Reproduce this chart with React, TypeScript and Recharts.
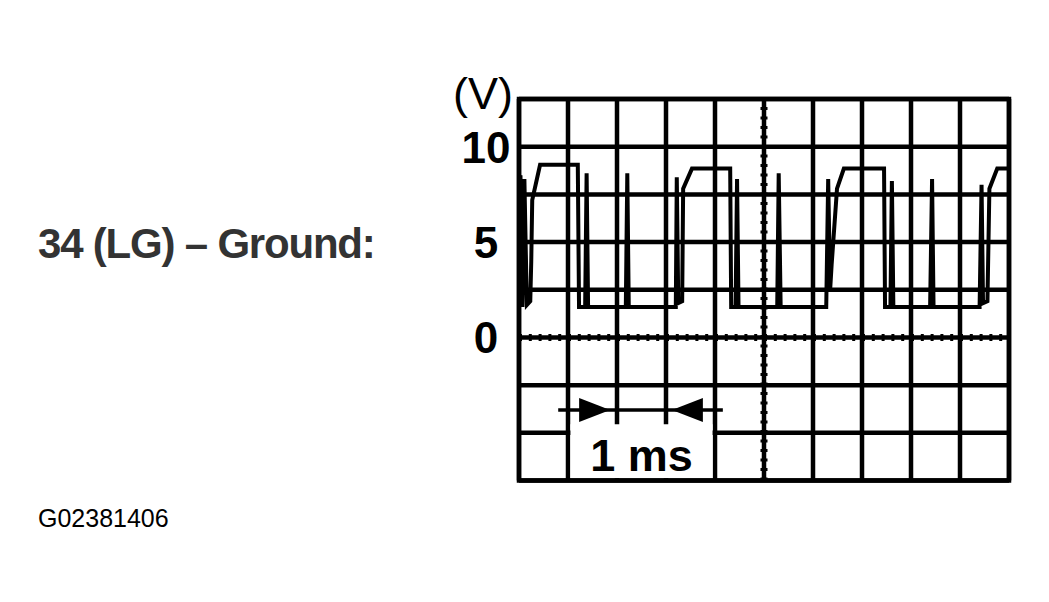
import {
  CartesianGrid,
  Line,
  LineChart,
  ReferenceArea,
  ReferenceDot,
  ReferenceLine,
  XAxis,
  YAxis,
} from "recharts";

// Scope trace for terminal 34 (LG) against ground:
// 1 ms per horizontal division, 2.5 V per vertical division.
const TIME_MS = [
  0, 0.03, 0.07, 0.11, 0.16, 0.23, 0.25, 0.27, 0.43,
  1.2, 1.225, 1.35, 1.38, 1.41,
  2.18, 2.21, 2.24,
  3.2, 3.22, 3.25, 3.33, 3.35, 3.53,
  4.31, 4.33, 4.42, 4.45, 4.48,
  5.27, 5.3, 5.34,
  6.27, 6.31, 6.35, 6.38, 6.49, 6.63,
  7.45, 7.47, 7.58, 7.61, 7.64,
  8.39, 8.43, 8.46,
  9.4, 9.44, 9.47, 9.56, 9.6, 9.76, 10,
];
const VOLTS = [
  8.0, 8.5, 1.6, 8.3, 1.7, 1.9, 4.0, 7.2, 9.05,
  9.05, 1.6, 1.6, 8.6, 1.6,
  1.6, 8.6, 1.6,
  1.6, 8.4, 1.8, 1.9, 7.8, 8.85,
  8.85, 1.6, 1.6, 8.3, 1.6,
  1.6, 8.6, 1.6,
  1.6, 8.3, 2.5, 3.8, 7.8, 8.85,
  8.85, 1.6, 1.6, 8.2, 1.6,
  1.6, 8.3, 1.6,
  1.6, 8.0, 1.8, 1.9, 7.8, 8.85, 8.85,
];

const TIME_TICKS = [0, 1, 2, 3, 4, 5, 6, 7, 8, 9, 10];
const VOLT_TICKS = [-7.5, -5, -2.5, 0, 2.5, 5, 7.5, 10, 12.5];
const VOLT_LABELS = [0, 5, 10];

// "1 ms" scale marker below the zero line
const MARKER_V = -3.8;
const MARKER_FROM = 0.8;
const MARKER_TO = 4.16;
const MARKER_RIGHT_TIP = 1.86;
const MARKER_LEFT_TIP = 3.12;

const trace = TIME_MS.map((t, i) => ({ t, v: VOLTS[i] }));

const FONT = "'Liberation Sans', Arial, Helvetica, sans-serif";

function VoltTick(props: any) {
  const { y, payload } = props;
  if (!VOLT_LABELS.includes(payload.value)) return null;
  return (
    <text
      x={486}
      y={y}
      dy="0.36em"
      textAnchor="middle"
      fontFamily={FONT}
      fontWeight="bold"
      fontSize={44}
      fill="#000"
    >
      {payload.value}
    </text>
  );
}

function Arrow(dir: 1 | -1) {
  return (props: any) => {
    const { cx, cy } = props;
    if (cx == null || cy == null) return null;
    const bx = cx - dir * 31;
    return <polygon points={`${cx},${cy} ${bx},${cy - 12} ${bx},${cy + 12}`} fill="#000" />;
  };
}

export default function App() {
  return (
    <div
      style={{
        position: "absolute",
        left: 0,
        top: 0,
        width: 1049,
        height: 602,
        background: "#fff",
        fontFamily: FONT,
      }}
    >
      <LineChart
        width={1049}
        height={602}
        data={trace}
        margin={{ top: 99, right: 40, bottom: 121.5, left: 459 }}
      >
        <CartesianGrid stroke="#000" strokeWidth={4.5} />
        <XAxis
          dataKey="t"
          type="number"
          domain={[0, 10]}
          ticks={TIME_TICKS}
          hide
        />
        <YAxis
          type="number"
          domain={[-7.5, 12.5]}
          ticks={VOLT_TICKS}
          width={60}
          axisLine={false}
          tickLine={false}
          tick={<VoltTick />}
          interval={0}
        />
        <ReferenceArea
          x1={1.05}
          x2={3.95}
          y1={-7.37}
          y2={-4.55}
          fill="#fff"
          fillOpacity={1}
          stroke="none"
          label={{
            value: "1 ms",
            position: "center",
            fontFamily: FONT,
            fontWeight: "bold",
            fontSize: 45,
            fill: "#000",
            dy: 4,
          }}
        />
        <ReferenceLine x={5} stroke="#000" strokeWidth={3} />
        <ReferenceLine x={5} stroke="#000" strokeWidth={7} strokeDasharray="3 6.5" />
        <ReferenceLine y={0} stroke="#000" strokeWidth={3} />
        <ReferenceLine y={0} stroke="#000" strokeWidth={7} strokeDasharray="3 6.8" />
        <ReferenceArea
          x1={0}
          x2={10}
          y1={-7.5}
          y2={12.5}
          fill="#fff"
          fillOpacity={0}
          stroke="#000"
          strokeWidth={4.5}
        />
        <ReferenceLine
          segment={[
            { x: MARKER_FROM, y: MARKER_V },
            { x: MARKER_TO, y: MARKER_V },
          ]}
          stroke="#000"
          strokeWidth={3.5}
        />
        <ReferenceDot x={MARKER_RIGHT_TIP} y={MARKER_V} r={1} shape={Arrow(1)} />
        <ReferenceDot x={MARKER_LEFT_TIP} y={MARKER_V} r={1} shape={Arrow(-1)} />
        <Line
          type="linear"
          dataKey="v"
          stroke="#000"
          strokeWidth={4}
          dot={false}
          isAnimationActive={false}
        />
      </LineChart>
      <svg
        width={1049}
        height={602}
        style={{ position: "absolute", left: 0, top: 0, pointerEvents: "none" }}
      >
        <text x={483} y={109} textAnchor="middle" fontFamily={FONT} fontSize={45} fill="#000">
          (V)
        </text>
        <text
          x={38}
          y={258}
          fontFamily={FONT}
          fontWeight="bold"
          fontSize={42}
          letterSpacing={-1.2}
          fill="#333"
        >
          34 (LG) – Ground:
        </text>
        <text x={38} y={527} fontFamily={FONT} fontSize={25} fill="#000">
          G02381406
        </text>
      </svg>
    </div>
  );
}
